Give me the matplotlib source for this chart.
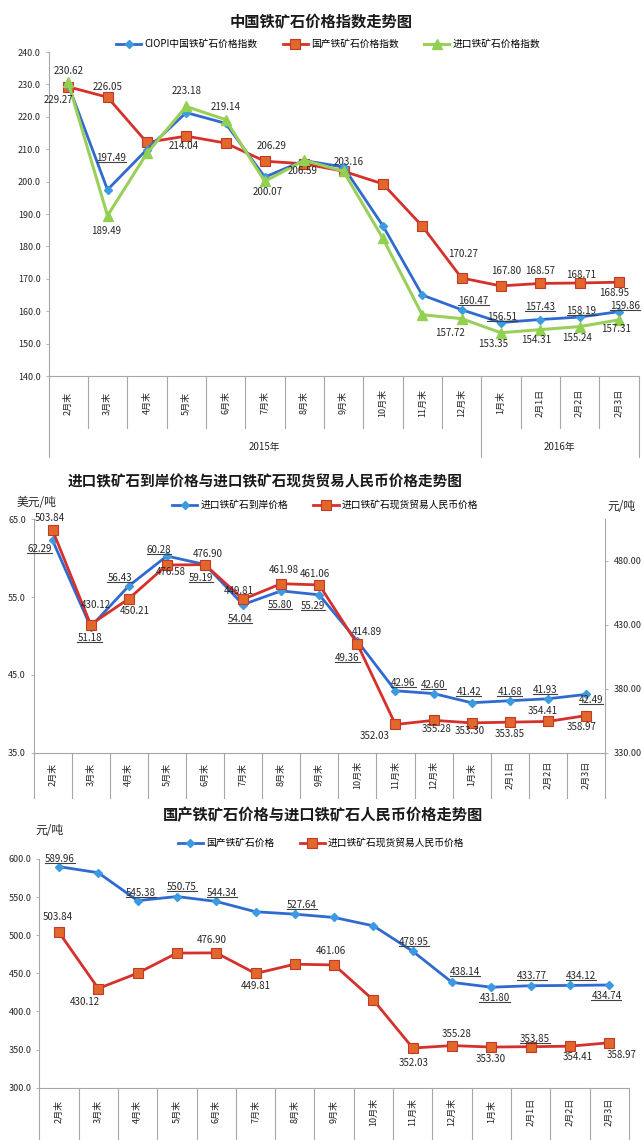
import matplotlib
matplotlib.use("Agg")
import matplotlib.pyplot as plt
from matplotlib.lines import Line2D
from matplotlib.ticker import FormatStrFormatter

plt.rcParams['font.family'] = ['Noto Sans CJK SC', 'DejaVu Sans']

W, H, DPI = 643, 1140, 100

# ---- 数据 ----
CATS = ["2月末", "3月末", "4月末", "5月末", "6月末", "7月末", "8月末", "9月末",
        "10月末", "11月末", "12月末", "1月末", "2月1日", "2月2日", "2月3日"]
YEARS = ["2015年", "2016年"]
YEAR_SPANS = [11, 4]

# 图1 指数
CIOPI = [229.9, 197.49, 209.9, 221.3, 218.0, 201.4, 206.5, 204.5, 186.4, 165.0,
         160.47, 156.51, 157.43, 158.19, 159.86]
DOMESTIC_IDX = [229.27, 226.05, 212.1, 214.04, 211.9, 206.29, 205.5, 203.2, 199.3, 186.3,
                170.27, 167.80, 168.57, 168.71, 168.95]
IMPORT_IDX = [230.62, 189.49, 208.7, 223.18, 219.14, 200.07, 206.59, 203.16, 182.5, 158.9,
              157.72, 153.35, 154.31, 155.24, 157.31]

# 图2 进口到岸(美元/吨) 与 现货人民币价格(元/吨)
IMPORT_CIF_USD = [62.29, 51.18, 56.43, 60.28, 59.19, 54.04, 55.80, 55.29, 49.36, 42.96,
                  42.60, 41.42, 41.68, 41.93, 42.49]
IMPORT_SPOT_RMB = [503.84, 430.12, 450.21, 476.58, 476.90, 449.81, 461.98, 461.06, 414.89, 352.03,
                   355.28, 353.30, 353.85, 354.41, 358.97]

# 图3 国产价格(元/吨)
DOMESTIC_RMB = [589.96, 582.0, 545.38, 550.75, 544.34, 530.8, 527.64, 523.3, 512.3, 478.95,
                438.14, 431.80, 433.77, 434.12, 434.74]

# 数据标签布局: (序列, 序号, dx像素, dy像素(向下为正), 下划线)
C1_LABELS = [
    ("imp", 0, 0, -11, False), ("dom", 0, -10, 13, False), ("dom", 1, 0, -10, False),
    ("imp", 3, 0, -15, False), ("imp", 4, 0, -13, False), ("ciopi", 1, 4, -32, True),
    ("dom", 3, -2, 10, False), ("dom", 5, 7, -15, False), ("imp", 6, -2, 11, False),
    ("imp", 7, 5, -9, False), ("imp", 5, 3, 11, False), ("imp", 1, -1, 15, False),
    ("dom", 10, 2, -24, False), ("dom", 11, 5, -15, False), ("dom", 12, 0, -12, False),
    ("dom", 13, 2, -8, False), ("dom", 14, -5, 11, False),
    ("ciopi", 10, 12, -9, True), ("ciopi", 11, 1, -6, True), ("ciopi", 12, 0, -13, True),
    ("ciopi", 13, 2, -6, True), ("ciopi", 14, 6, -6, True),
    ("imp", 10, -12, 14, False), ("imp", 11, -8, 11, False), ("imp", 12, -4, 10, False),
    ("imp", 13, -2, 11, False), ("imp", 14, -3, 9, False),
]
C2_LABELS = [
    ("rmb", 0, -3, -12, False), ("usd", 0, -13, 9, True), ("usd", 3, -8, -6, True),
    ("rmb", 4, 3, -11, False), ("usd", 2, -9, -8, True), ("rmb", 3, 4, 7, False),
    ("usd", 4, -4, 13, True), ("rmb", 6, 3, -14, False), ("rmb", 7, -4, -11, False),
    ("rmb", 5, -4, -8, False), ("rmb", 1, 5, -20, False), ("rmb", 2, 6, 12, False),
    ("usd", 5, -3, 14, True), ("usd", 6, -1, 14, True), ("usd", 7, -6, 11, True),
    ("usd", 1, -1, 11, True), ("rmb", 8, 9, -12, False), ("usd", 8, -10, 17, True),
    ("usd", 9, 8, -8, True), ("usd", 10, 0, -9, True), ("usd", 11, -3, -11, True),
    ("usd", 12, 0, -9, True), ("usd", 13, -3, -9, True), ("usd", 14, 5, 6, True),
    ("rmb", 13, -5, -10, False), ("rmb", 9, -21, 12, False), ("rmb", 10, 3, 9, False),
    ("rmb", 11, -2, 8, False), ("rmb", 12, 0, 12, False), ("rmb", 14, -4, 11, False),
]
C3_LABELS = [
    ("dom", 0, 1, -8, True), ("dom", 2, 3, -8, True), ("dom", 3, 5, -10, True),
    ("dom", 4, 6, -8, True), ("dom", 6, 7, -9, True), ("imp", 0, -1, -15, False),
    ("imp", 4, -4, -13, False), ("imp", 7, -3, -14, False), ("dom", 9, 1, -9, True),
    ("dom", 10, 13, -10, True), ("dom", 12, 1, -10, True), ("dom", 13, 11, -9, True),
    ("dom", 11, 3, 11, True), ("dom", 14, -3, 11, True), ("imp", 1, -13, 13, False),
    ("imp", 5, 0, 13, False), ("imp", 10, 5, -12, False), ("imp", 12, 4, -8, True),
    ("imp", 9, 1, 15, False), ("imp", 11, -1, 12, False), ("imp", 13, 8, 11, False),
    ("imp", 14, 12, 12, False),
]

# ---- 样式 ----
BLUE, BLUE_MK = "#2F6AD0", "#3C9BE0"
RED, RED_MK = "#D6302B", "#E2672A"
GREEN, GREEN_MK = "#9ACF5A", "#92D050"
GRID = "#A6A6A6"
TXT = "#262626"

BLUE_STYLE = dict(color=BLUE, lw=2.0, marker="D", ms=4.5, mfc=BLUE_MK, mec=BLUE_MK)
RED_STYLE = dict(color=RED, lw=2.0, marker="s", ms=7, mfc=RED_MK, mec="#C0392B", mew=0.8)
GREEN_STYLE = dict(color=GREEN, lw=2.2, marker="^", ms=7, mfc=GREEN_MK, mec=GREEN_MK)

fig = plt.figure(figsize=(W / DPI, H / DPI), dpi=DPI)
underlined = []


def px_axes(left, right, top, bottom):
    return fig.add_axes([left / W, 1 - bottom / H, (right - left) / W, (bottom - top) / H])


def base_style(ax):
    for s in ("top", "right"):
        ax.spines[s].set_visible(False)
    for s in ("left", "bottom"):
        ax.spines[s].set_color(GRID)
        ax.spines[s].set_linewidth(0.8)
    ax.tick_params(axis="y", length=2.5, width=0.6, color=GRID, labelsize=6.5,
                   labelcolor=TXT, pad=3)
    ax.set_xticks([])


def category_axis(ax, sep_px, label_px, long_sep=(), long_px=0):
    n = len(CATS)
    ax.set_xlim(-0.5, n - 0.5)
    h = ax.get_position().height * H
    tr = ax.get_xaxis_transform()
    for b in range(n + 1):
        depth = long_px if b in long_sep else sep_px
        ax.plot([b - 0.5, b - 0.5], [0, -depth / h], transform=tr, clip_on=False,
                color=GRID, lw=0.8)
    for i, c in enumerate(CATS):
        ax.text(i, -label_px / h, c, rotation=90, ha="center", va="center",
                transform=tr, fontsize=6.5, color=TXT)


def put_labels(specs, series):
    for key, i, dx, dy, ul in specs:
        ax, vals = series[key]
        t = ax.annotate(f"{vals[i]:.2f}", (i, vals[i]), xytext=(dx * 0.72, -dy * 0.72),
                        textcoords="offset points", ha="center", va="center",
                        fontsize=7, color=TXT, zorder=6)
        if ul:
            underlined.append(t)


def title(x, y, s, size):
    fig.text(x / W, 1 - y / H, s, ha="center", va="center", fontsize=size,
             fontweight="bold", color="#1a1a1a")


x = list(range(len(CATS)))

# ---- 图1 ----
title(321, 22, "中国铁矿石价格指数走势图", 11)
ax1 = px_axes(48.5, 638.5, 52, 376)
base_style(ax1)
l1, = ax1.plot(x, CIOPI, **BLUE_STYLE, zorder=3)
l2, = ax1.plot(x, DOMESTIC_IDX, **RED_STYLE, zorder=2)
l3, = ax1.plot(x, IMPORT_IDX, **GREEN_STYLE, zorder=4)
ax1.set_ylim(140, 240)
ax1.set_yticks(range(140, 241, 10))
ax1.yaxis.set_major_formatter(FormatStrFormatter("%.1f"))
category_axis(ax1, 52, 27, long_sep=(0, 11, 15), long_px=81)
h1 = ax1.get_position().height * H
start = 0
for yr, span in zip(YEARS, YEAR_SPANS):
    ax1.text(start + (span - 1) / 2, -71 / h1, yr, ha="center", va="center",
             transform=ax1.get_xaxis_transform(), fontsize=7, color=TXT)
    start += span
put_labels(C1_LABELS, {"ciopi": (ax1, CIOPI), "dom": (ax1, DOMESTIC_IDX),
                       "imp": (ax1, IMPORT_IDX)})
fig.legend([l1, l2, l3], ["CIOPI中国铁矿石价格指数", "国产铁矿石价格指数", "进口铁矿石价格指数"],
           loc="center", bbox_to_anchor=(328 / W, 1 - 44 / H), ncol=3, frameon=False,
           fontsize=7, handlelength=2.6, handletextpad=0.3, columnspacing=2.6)

# ---- 图2 ----
title(265, 481, "进口铁矿石到岸价格与进口铁矿石现货贸易人民币价格走势图", 10.5)
ax2 = px_axes(33.5, 605, 519.3, 752.7)
base_style(ax2)
b2, = ax2.plot(x, IMPORT_CIF_USD, **BLUE_STYLE, zorder=3)
ax2.set_ylim(35, 65)
ax2.set_yticks([35, 45, 55, 65])
ax2.yaxis.set_major_formatter(FormatStrFormatter("%.1f"))
category_axis(ax2, 45, 22)
ax2r = ax2.twinx()
for s in ("top", "left", "bottom"):
    ax2r.spines[s].set_visible(False)
ax2r.spines["right"].set_color(GRID)
ax2r.spines["right"].set_linewidth(0.8)
r2, = ax2r.plot(x, IMPORT_SPOT_RMB, **RED_STYLE, zorder=3)
ax2r.set_ylim(330, 512.3)
ax2r.set_yticks([330, 380, 430, 480])
ax2r.yaxis.set_major_formatter(FormatStrFormatter("%.2f"))
ax2r.tick_params(axis="y", length=2.5, width=0.6, color=GRID, labelsize=6.5,
                 labelcolor=TXT, pad=4)
put_labels(C2_LABELS, {"usd": (ax2, IMPORT_CIF_USD), "rmb": (ax2r, IMPORT_SPOT_RMB)})
fig.text(17 / W, 1 - 503 / H, "美元/吨", ha="left", va="center", fontsize=8.5, color=TXT)
fig.text(607 / W, 1 - 506 / H, "元/吨", ha="left", va="center", fontsize=8.5, color=TXT)
fig.legend([b2, r2], ["进口铁矿石到岸价格", "进口铁矿石现货贸易人民币价格"],
           loc="center", bbox_to_anchor=(325 / W, 1 - 505 / H), ncol=2, frameon=False,
           fontsize=7, handlelength=2.6, handletextpad=0.3, columnspacing=2.6)

# ---- 图3 ----
title(323, 815, "国产铁矿石价格与进口铁矿石人民币价格走势图", 11)
ax3 = px_axes(39.3, 629, 859, 1087.7)
base_style(ax3)
b3, = ax3.plot(x, DOMESTIC_RMB, **BLUE_STYLE, zorder=3)
r3, = ax3.plot(x, IMPORT_SPOT_RMB, **RED_STYLE, zorder=3)
ax3.set_ylim(300, 600)
ax3.set_yticks(range(300, 601, 50))
ax3.yaxis.set_major_formatter(FormatStrFormatter("%.1f"))
category_axis(ax3, 53, 24)
put_labels(C3_LABELS, {"dom": (ax3, DOMESTIC_RMB), "imp": (ax3, IMPORT_SPOT_RMB)})
fig.text(35 / W, 1 - 830 / H, "元/吨", ha="left", va="center", fontsize=8.5, color=TXT)
fig.legend([b3, r3], ["国产铁矿石价格", "进口铁矿石现货贸易人民币价格"],
           loc="center", bbox_to_anchor=(321 / W, 1 - 843 / H), ncol=2, frameon=False,
           fontsize=7, handlelength=2.6, handletextpad=0.3, columnspacing=2.6)

# 标签下划线(Excel 引导线的效果)
fig.canvas.draw()
renderer = fig.canvas.get_renderer()
inv = fig.transFigure.inverted()
for t in underlined:
    bb = t.get_window_extent(renderer=renderer)
    (x0, y0), (x1, _) = inv.transform([(bb.x0, bb.y0 + 1), (bb.x1, bb.y0 + 1)])
    fig.add_artist(Line2D([x0, x1], [y0, y0], color="#404040", lw=0.8))

fig.savefig("out.png", dpi=DPI)
